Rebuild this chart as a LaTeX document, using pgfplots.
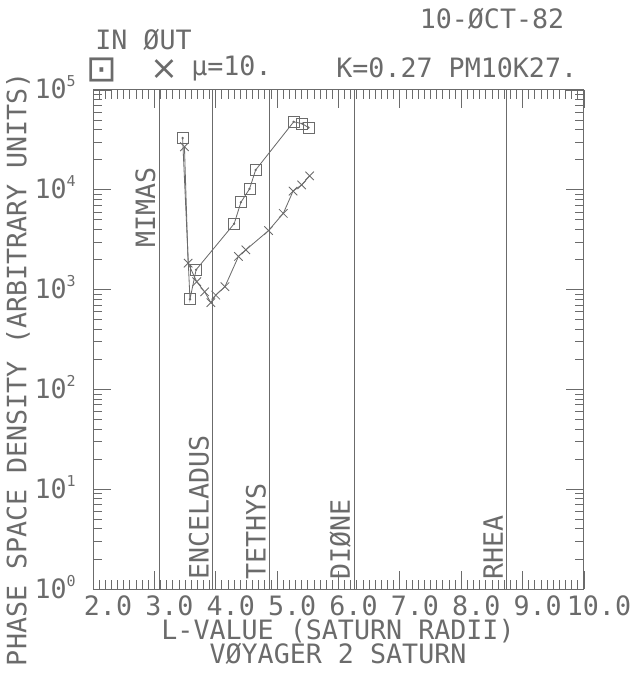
\documentclass[border=0pt]{standalone}
\usepackage{pgfplots}
\pgfplotsset{compat=1.18}
\usepackage{fontspec}
\setmainfont{DejaVu Sans Mono}
\newfontfamily\djs{DejaVu Sans}
\definecolor{ink}{gray}{0.42}
\newcommand\supx[1]{\raisebox{0.45em}{\fontsize{9}{9}\selectfont #1}}
\newcommand\bigf{\fontsize{16}{19}\selectfont}

\pgfplotstableread{
L    f
3.46 33000
3.58 800
3.68 1580
4.30 4570
4.41 7500
4.55 10200
4.65 15800
5.27 48000
5.41 46000
5.51 42000
}\inbound

\pgfplotstableread{
L    f
3.49 27000
3.55 1840
3.69 1200
3.82 950
3.92 740
4.00 880
4.15 1070
4.37 2150
4.49 2500
4.86 3900
5.10 5800
5.26 9700
5.40 11200
5.53 13800
}\outbound

\begin{document}
\begin{tikzpicture}
\begin{axis}[
  at={(0,0)}, anchor=south west,
  scale only axis, width=294.6pt, height=299.4pt,
  xmin=2, xmax=10, ymin=1, ymax=1e5, ymode=log,
  axis line style={ink, line width=0.6pt},
  every tick/.style={ink, line width=0.5pt},
  tick align=inside,
  xtick={2,3,4,5,6,7,8,9,10},
  xticklabels={2.0,3.0,4.0,5.0,6.0,7.0,8.0,9.0,10.0},
  minor x tick num=9,
  ytick={1,10,100,1000,10000,100000},
  yticklabels={10\supx{0},10\supx{1},10\supx{2},10\supx{3},10\supx{4},10\supx{5}},
  major tick length=10.8pt, minor tick length=5.4pt,
  xticklabel style={font=\bigf, text=ink, anchor=base, xshift=9pt, yshift=-15.6pt, inner sep=0pt},
  yticklabel style={font=\bigf, text=ink, anchor=base east, xshift=-10.2pt, yshift=-5.4pt, inner sep=0pt},
  clip=false,
]
\draw[ink, line width=0.6pt] (axis cs:3.08,1) -- (axis cs:3.08,1e5);
\draw[ink, line width=0.6pt] (axis cs:3.95,1) -- (axis cs:3.95,1e5);
\draw[ink, line width=0.6pt] (axis cs:4.88,1) -- (axis cs:4.88,1e5);
\draw[ink, line width=0.6pt] (axis cs:6.26,1) -- (axis cs:6.26,1e5);
\draw[ink, line width=0.6pt] (axis cs:8.74,1) -- (axis cs:8.74,1e5);

\addplot[ink, line width=0.5pt, mark=square, mark size=3.3pt] table[x=L, y=f] {\inbound};
\addplot[ink, only marks, mark=*, mark size=0.5pt] table[x=L, y=f] {\inbound};
\addplot[ink, line width=0.5pt, mark=x, mark size=3.6pt] table[x=L, y=f] {\outbound};

\node[rotate=90, anchor=south west, inner sep=0pt, font=\bigf, text=ink] at ([xshift=-2pt]axis cs:3.08,2630) {MIMAS};
\node[rotate=90, anchor=south west, inner sep=0pt, font=\bigf, text=ink] at ([xshift=-2pt]axis cs:3.95,1.23) {ENCELADUS};
\node[rotate=90, anchor=south west, inner sep=0pt, font=\bigf, text=ink] at ([xshift=-2pt]axis cs:4.88,1.23) {TETHYS};
\node[rotate=90, anchor=south west, inner sep=0pt, font=\bigf, text=ink] at ([xshift=-2pt]axis cs:6.26,1.23) {DIØNE};
\node[rotate=90, anchor=south west, inner sep=0pt, font=\bigf, text=ink] at ([xshift=-2pt]axis cs:8.74,1.23) {RHEA};
\end{axis}
\begin{scope}[x=0.6pt, y=0.6pt]
\path[use as bounding box] (-93,-89) rectangle (547,589);
\node[font=\bigf, text=ink, inner sep=0pt] at (399,570) {10-ØCT-82};
\node[font=\bigf, text=ink, inner sep=0pt, anchor=west] at (2,549) {IN ØUT};
\node[text=ink, inner sep=0pt] at (9,519) {\djs\fontsize{22}{22}\selectfont ⊡};
\node[text=ink, inner sep=0pt] at (71,519) {\djs\fontsize{20}{20}\selectfont ×};
\node[font=\bigf, text=ink, inner sep=0pt, anchor=west] at (98,521) {μ=10.};
\node[font=\bigf, text=ink, inner sep=0pt, anchor=west] at (243,521) {K=0.27 PM10K27.};
\node[font=\bigf, text=ink, inner sep=0pt, rotate=90] at (-75,220) {PHASE SPACE DENSITY (ARBITRARY UNITS)};
\node[font=\bigf, text=ink, inner sep=0pt] at (245,-42) {L-VALUE (SATURN RADII)};
\node[font=\bigf, text=ink, inner sep=0pt] at (245,-65) {VØYAGER 2 SATURN};
\end{scope}
\end{tikzpicture}
\end{document}
